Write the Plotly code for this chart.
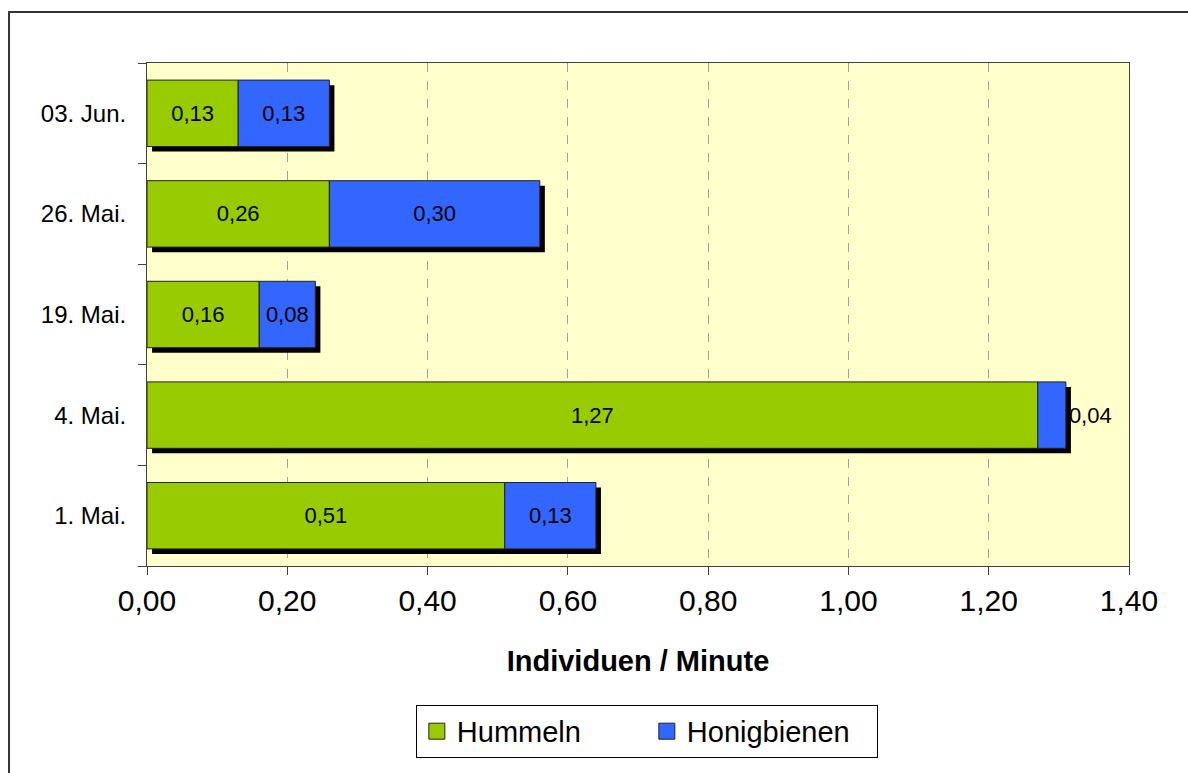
import plotly.graph_objects as go

# Beobachtungstage (von unten nach oben) und Besuchsraten
dates = ["1. Mai.", "4. Mai.", "19. Mai.", "26. Mai.", "03. Jun."]
hummeln = [0.51, 1.27, 0.16, 0.26, 0.13]
honigbienen = [0.13, 0.04, 0.08, 0.30, 0.13]
x_ticks = [0.0, 0.2, 0.4, 0.6, 0.8, 1.0, 1.2, 1.4]

GREEN = "#99CC00"
BLUE = "#3366FF"
FONT = "Liberation Sans, Arial, sans-serif"

totals = [h + b for h, b in zip(hummeln, honigbienen)]
bar_width = 0.66
# Schlagschatten: leicht nach rechts unten versetzt
shadow_dx = 0.0072
shadow_dy = 0.05

fig = go.Figure()

fig.add_trace(go.Bar(
    y=dates, x=totals, base=shadow_dx, orientation="h",
    width=bar_width, offset=-bar_width / 2 - shadow_dy,
    marker=dict(color="black", line=dict(width=0)),
    showlegend=False, hoverinfo="skip",
))

fig.add_trace(go.Bar(
    name="Hummeln", y=dates, x=hummeln, orientation="h",
    width=bar_width,
    marker=dict(color=GREEN, line=dict(color="#222222", width=1)),
    texttemplate="%{x:.2f}", textposition="inside",
    insidetextanchor="middle",
    textfont=dict(family=FONT, size=22, color="black"),
    showlegend=False,
))

fig.add_trace(go.Bar(
    name="Honigbienen", y=dates, x=honigbienen, base=hummeln, orientation="h",
    width=bar_width,
    marker=dict(color=BLUE, line=dict(color="#222222", width=1)),
    texttemplate="%{x:.2f}",
    textposition=["inside" if v >= 0.06 else "outside" for v in honigbienen],
    insidetextanchor="middle",
    textfont=dict(family=FONT, size=22, color="black"),
    cliponaxis=False,
    showlegend=False,
))

# Legendeneinträge mit größeren quadratischen Farbfeldern
for name, color in [("Hummeln", GREEN), ("Honigbienen", BLUE)]:
    fig.add_trace(go.Scatter(
        x=[None], y=[None], mode="markers", name=name,
        marker=dict(symbol="square", size=16, color=color,
                    line=dict(color="#222222", width=1)),
        hoverinfo="skip",
    ))

fig.update_layout(
    width=1188, height=773,
    margin=dict(l=147, r=59, t=63, b=207),
    paper_bgcolor="white",
    plot_bgcolor="#FFFFCC",
    barmode="overlay",
    separators=",.",
    font=dict(family=FONT, color="black"),
    xaxis=dict(
        range=[0, 1.4], tickvals=x_ticks, tickformat=".2f",
        tickfont=dict(size=30), ticks="outside", ticklen=8, tickcolor="#404040",
        showline=True, linecolor="#404040", linewidth=1, mirror=True,
        showgrid=True, gridcolor="#A0A0A0", griddash="dash", gridwidth=1,
        zeroline=False,
        title=dict(text="<b>Individuen / Minute</b>", font=dict(size=29), standoff=34),
    ),
    yaxis=dict(
        categoryorder="array", categoryarray=dates,
        tickfont=dict(size=24), ticks="outside", ticklen=8, tickcolor="#404040",
        tickson="boundaries", ticklabelstandoff=15,
        showline=True, linecolor="#404040", linewidth=1, mirror=True,
        showgrid=False, zeroline=False,
    ),
    legend=dict(
        orientation="h", x=0.509, xanchor="center", y=-0.276, yanchor="top",
        bordercolor="black", borderwidth=1, bgcolor="white",
        font=dict(size=29), itemwidth=30, entrywidth=185, traceorder="normal",
    ),
    shapes=[dict(
        type="rect", xref="paper", yref="paper",
        x0=-0.1405, x1=1.2, y0=-0.6, y1=1.1014,
        line=dict(color="#333333", width=2), fillcolor="rgba(0,0,0,0)",
        layer="below",
    )],
)

fig.write_html("out.html")
